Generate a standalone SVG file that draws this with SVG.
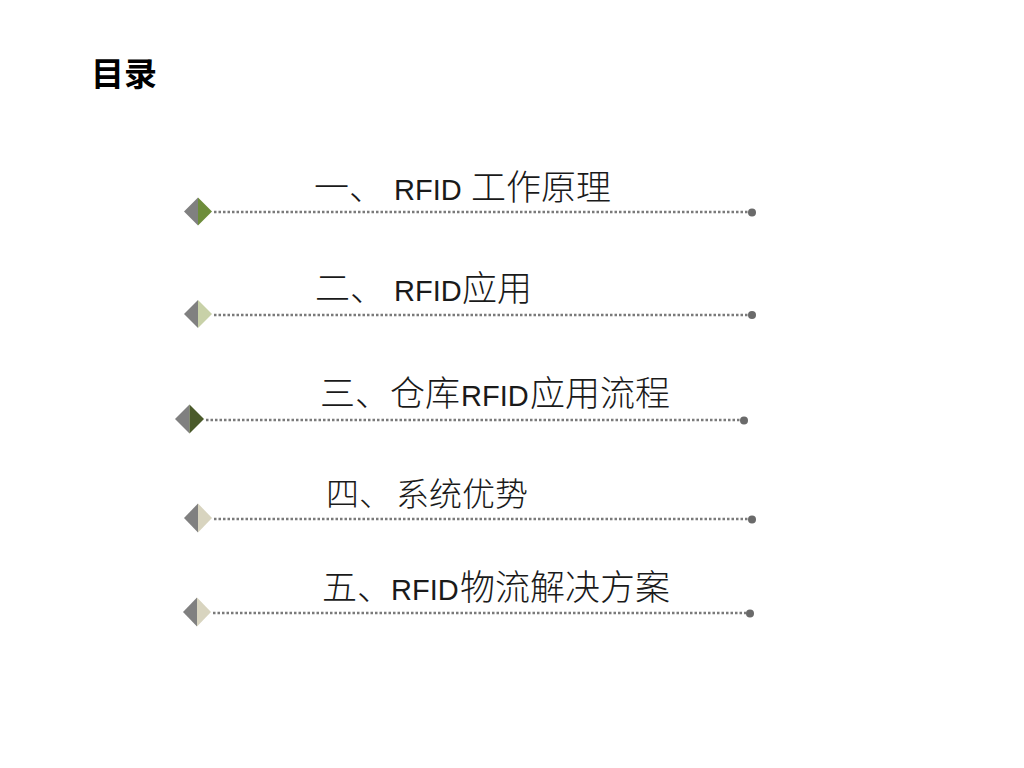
<svg xmlns="http://www.w3.org/2000/svg" width="1024" height="768" viewBox="0 0 1024 768">
<style>
.cjk{font-family:"Noto Sans CJK SC","Noto Sans CJK JP",sans-serif;font-size:35px;fill:#1a1a1a;font-weight:300}
.cjk4{font-family:"Noto Sans CJK SC","Noto Sans CJK JP",sans-serif;font-size:33px;fill:#1a1a1a;font-weight:300}
.lat{font-family:"Liberation Sans",Arial,sans-serif;font-size:29px;fill:#1a1a1a}
.title{font-family:"Noto Sans CJK SC",sans-serif;font-size:33px;font-weight:bold;fill:#000}
.dots{stroke:#7a7a7a;stroke-width:2.5;stroke-dasharray:2.5 2;fill:none}
.end{fill:#6a6a6a}
.lh{fill:#808080}
</style>
<rect width="1024" height="768" fill="#ffffff"/>
<text class="title" x="91" y="86">目录</text>

<g id="connectors">
<line class="dots" x1="214" y1="212" x2="750" y2="212"/>
<circle class="end" cx="752" cy="212.5" r="4"/>
<line class="dots" x1="214" y1="315" x2="750" y2="315"/>
<circle class="end" cx="752" cy="315" r="4"/>
<line class="dots" x1="206" y1="420" x2="742" y2="420"/>
<circle class="end" cx="744" cy="420.5" r="4"/>
<line class="dots" x1="214" y1="519" x2="750" y2="519"/>
<circle class="end" cx="752" cy="519.5" r="4"/>
<line class="dots" x1="213" y1="613" x2="748" y2="613"/>
<circle class="end" cx="750" cy="613.5" r="4"/>
</g>

<g id="item1">
<polygon class="lh" points="198,197.5 184,211.5 198,225.5"/>
<polygon points="198,197.5 212,211.5 198,225.5" fill="#6e8d3b"/>
<text y="200"><tspan class="cjk" x="314">一、</tspan><tspan class="lat" x="394">RFID</tspan><tspan class="cjk" x="471">工作原理</tspan></text>
</g>

<g id="item2">
<polygon class="lh" points="198,300 184,314 198,328"/>
<polygon points="198,300 212,314 198,328" fill="#c8d1a8"/>
<text y="301"><tspan class="cjk" x="315">二、</tspan><tspan class="lat" x="394">RFID</tspan><tspan class="cjk" x="462">应用</tspan></text>
</g>

<g id="item3">
<polygon class="lh" points="189.5,404.5 175,419 189.5,433.5"/>
<polygon points="189.5,404.5 204,419 189.5,433.5" fill="#4a5a2a"/>
<text y="406"><tspan class="cjk" x="320">三、仓库</tspan><tspan class="lat" x="461">RFID</tspan><tspan class="cjk" x="530">应用流程</tspan></text>
</g>

<g id="item4">
<polygon class="lh" points="198,503.5 184,518 198,532.5"/>
<polygon points="198,503.5 212,518 198,532.5" fill="#d8d4bf"/>
<text y="506"><tspan class="cjk4" x="326">四、</tspan><tspan class="cjk4" x="396">系统优势</tspan></text>
</g>

<g id="item5">
<polygon class="lh" points="197,597.5 183,612 197,626.5"/>
<polygon points="197,597.5 211,612 197,626.5" fill="#d8d4bf"/>
<text y="600"><tspan class="cjk" x="322">五、</tspan><tspan class="lat" x="391">RFID</tspan><tspan class="cjk" x="460">物流解决方案</tspan></text>
</g>
</svg>
